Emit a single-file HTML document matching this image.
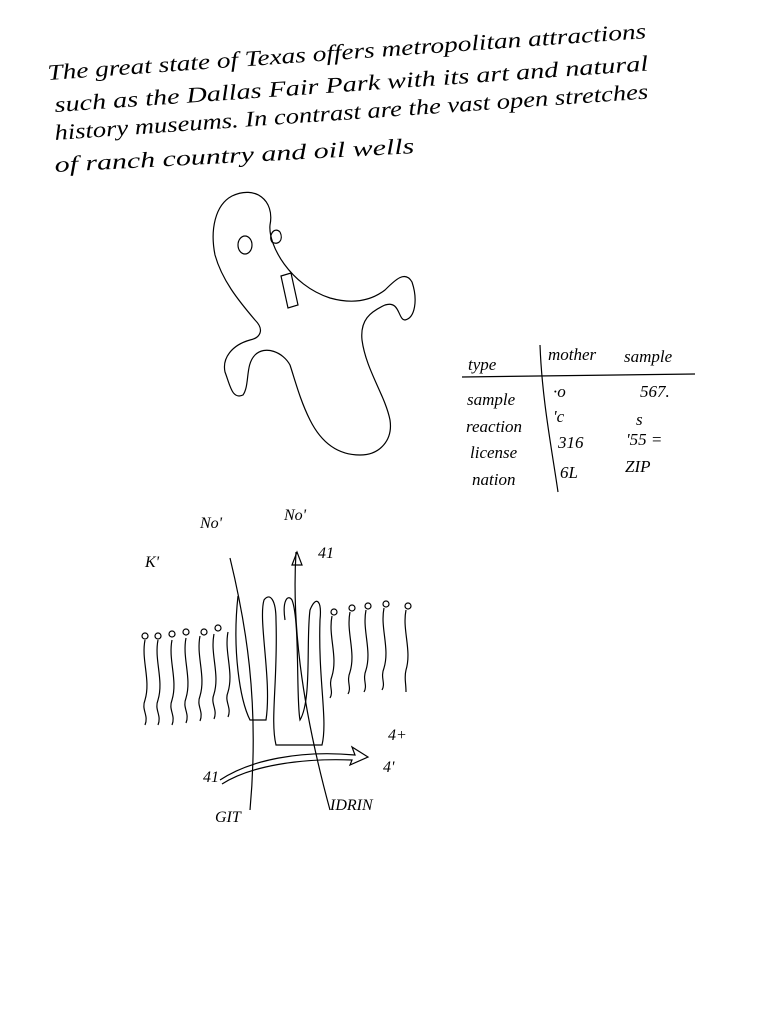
<!DOCTYPE html>
<html><head><meta charset="utf-8"><style>
html,body{margin:0;padding:0;background:#fff;}
svg{display:block}
text{font-family:"Liberation Serif",serif;font-style:italic;fill:#000;}
</style></head><body>
<svg width="768" height="1024" viewBox="0 0 768 1024" fill="none" stroke="#000" stroke-width="1.2">
<g stroke="none">
<text x="48" y="80" font-size="22" transform="rotate(-4 48 80)" textLength="600" lengthAdjust="spacingAndGlyphs">The great state of Texas offers metropolitan attractions</text>
<text x="55" y="112" font-size="22" transform="rotate(-4 55 112)" textLength="595" lengthAdjust="spacingAndGlyphs">such as the Dallas Fair Park with its art and natural</text>
<text x="55" y="140" font-size="22" transform="rotate(-4 55 140)" textLength="595" lengthAdjust="spacingAndGlyphs">history museums. In contrast are the vast open stretches</text>
<text x="55" y="172" font-size="22" transform="rotate(-3 55 172)" textLength="360" lengthAdjust="spacingAndGlyphs">of ranch country and oil wells</text>
</g>
<g>
<path d="M232 196 C255 185 275 200 270 225 C268 245 290 285 330 298 C355 305 372 300 385 290 C395 280 405 270 412 282 C418 300 415 318 405 320 C398 320 400 300 385 305 C370 312 360 320 362 340 C366 370 385 395 390 420 C393 440 380 455 360 455 C335 455 320 440 310 420 C300 400 295 380 290 365 C283 352 265 345 255 355 C245 365 250 385 243 395 C232 400 230 385 225 372 C222 358 232 345 250 340 C260 338 265 330 255 320 C238 300 222 280 215 255 C210 230 215 205 232 196 Z"/>
<ellipse cx="245" cy="245" rx="7" ry="9"/>
<path d="M280 232 C274 226 268 236 272 242 C278 246 284 240 280 232"/>
<path d="M281 276 L291 273 L298 305 L288 308 Z"/>
</g>
<g>
<line x1="462" y1="377" x2="695" y2="374"/>
<path d="M540 345 C542 400 552 450 558 492"/>
<g stroke="none" font-size="17">
<text x="468" y="370">type</text><text x="548" y="360">mother</text><text x="624" y="362">sample</text>
<text x="467" y="405">sample</text><text x="553" y="397">·o</text><text x="640" y="397">567.</text>
<text x="466" y="432">reaction</text><text x="553" y="422">'c</text><text x="636" y="425">s</text>
<text x="470" y="458">license</text><text x="558" y="448">316</text><text x="626" y="445">'55 =</text>
<text x="472" y="485">nation</text><text x="560" y="478">6L</text><text x="625" y="472">ZIP</text>
</g>
</g>
<g>
<g stroke="none" font-size="16">
<text x="200" y="528">No'</text><text x="284" y="520">No'</text>
<text x="145" y="567">K'</text><text x="318" y="558">41</text>
<text x="388" y="740">4+</text><text x="383" y="772">4'</text>
<text x="203" y="782">41</text>
<text x="215" y="822">GIT</text><text x="330" y="810">IDRIN</text>
</g>
<path d="M230 558 C245 620 260 700 250 810"/>
<path d="M296 552 C292 620 300 700 330 810"/>
<path d="M292 565 L297 552 L302 565 Z"/>
<path d="M238 596 C232 650 240 700 250 720 L266 720 C272 680 258 620 264 600 C270 592 276 600 276 620 C278 680 270 720 276 745 L322 745 C328 720 318 680 320 620 C322 600 316 595 310 610 C306 640 312 700 300 720 C296 700 300 620 292 600 C288 594 282 600 285 620"/>
<path d="M220 780 C250 760 300 750 355 755 L352 747 L368 757 L350 765 L352 760 C300 758 250 766 222 784"/>
<g>
<path d="M145 640 c-4 20 6 40 0 60 c-4 10 4 15 0 25"/><circle cx="145" cy="636" r="3"/>
<path d="M158 640 c-4 20 6 40 0 60 c-4 10 4 15 0 25"/><circle cx="158" cy="636" r="3"/>
<path d="M172 640 c-4 20 6 40 0 60 c-4 10 4 15 0 25"/><circle cx="172" cy="634" r="3"/>
<path d="M186 638 c-4 20 6 40 0 60 c-4 10 4 15 0 25"/><circle cx="186" cy="632" r="3"/>
<path d="M200 636 c-4 20 6 40 0 60 c-4 10 4 15 0 25"/><circle cx="204" cy="632" r="3"/>
<path d="M214 634 c-4 20 6 40 0 60 c-4 10 4 15 0 25"/><circle cx="218" cy="628" r="3"/>
<path d="M228 632 c-4 20 6 40 0 60 c-4 10 4 15 0 25"/>
</g>
<g>
<path d="M332 616 c-4 20 6 40 0 60 c-4 10 2 15 -2 22"/><circle cx="334" cy="612" r="3"/>
<path d="M350 612 c-4 20 6 40 0 60 c-4 10 2 15 -2 22"/><circle cx="352" cy="608" r="3"/>
<path d="M366 610 c-4 20 6 40 0 60 c-4 10 2 15 -2 22"/><circle cx="368" cy="606" r="3"/>
<path d="M384 608 c-4 20 6 40 0 60 c-4 10 2 15 -2 22"/><circle cx="386" cy="604" r="3"/>
<path d="M406 610 c-4 20 6 40 0 60 c-2 8 0 12 0 22"/><circle cx="408" cy="606" r="3"/>
</g>
</g>
</svg>
</body></html>
